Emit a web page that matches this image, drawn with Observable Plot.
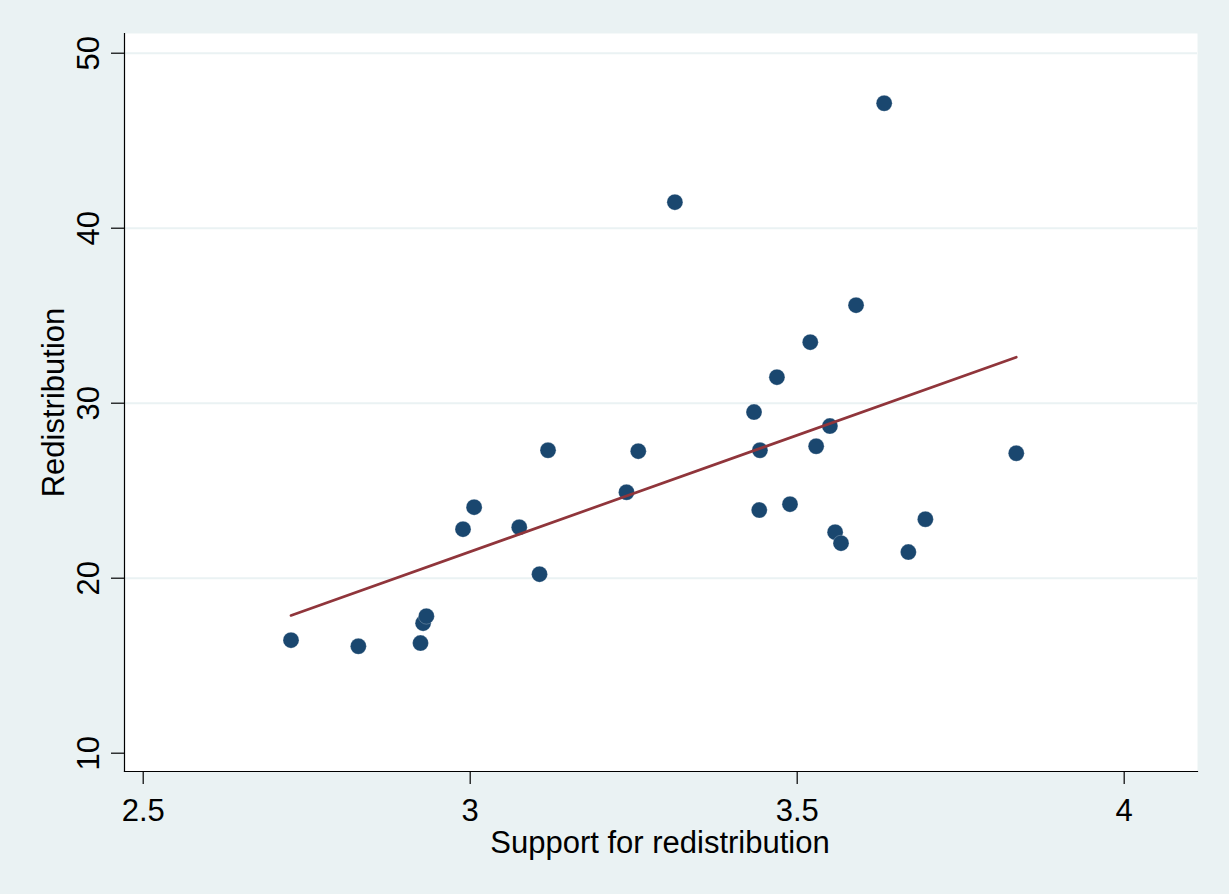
<!DOCTYPE html>
<html>
<head>
<meta charset="utf-8">
<script src="https://cdn.jsdelivr.net/npm/d3@7"></script>
<script src="https://cdn.jsdelivr.net/npm/@observablehq/plot@0.6"></script>
<style>
  html, body { margin: 0; padding: 0; background: #EAF2F3; }
  #chart svg { display: block; }
</style>
</head>
<body>
<div id="chart"></div>
<script>
// Data
const support = [2.726, 2.829, 2.924, 2.928, 2.933, 2.989, 3.006, 3.075, 3.106, 3.119,
                 3.239, 3.257, 3.313, 3.434, 3.442, 3.443, 3.469, 3.489, 3.520, 3.529,
                 3.550, 3.558, 3.567, 3.590, 3.633, 3.670, 3.696, 3.835];
const redistribution = [16.46, 16.11, 16.29, 17.43, 17.83, 22.80, 24.06, 22.91, 20.23, 27.31,
                        24.91, 27.26, 41.49, 29.49, 23.89, 27.31, 31.49, 24.23, 33.49, 27.54,
                        28.69, 22.63, 22.00, 35.60, 47.14, 21.49, 23.37, 27.14];
// fitted line endpoints
const fitX = [2.726, 3.835];
const fitY = [17.87, 32.63];

const xTicks = [2.5, 3, 3.5, 4];
const xTickLabels = ["2.5", "3", "3.5", "4"];
const yTicks = [10, 20, 30, 40, 50];
const yTickLabels = ["10", "20", "30", "40", "50"];
const gridTicks = [20, 30, 40, 50];
const xTitle = "Support for redistribution";
const yTitle = "Redistribution";

const points = support.map((x, i) => ({x, y: redistribution[i]}));
const fit = fitX.map((x, i) => ({x, y: fitY[i]}));
const xTickData = xTicks.map((v, i) => ({v, t: xTickLabels[i]}));
const yTickData = yTicks.map((v, i) => ({v, t: yTickLabels[i]}));

const font = "'Liberation Sans', Arial, Helvetica, sans-serif";
const fs = 31;

const chart = Plot.plot({
  width: 1229,
  height: 894,
  marginLeft: 124,
  marginRight: 32,
  marginTop: 33,
  marginBottom: 123,
  style: {background: "#EAF2F3", fontFamily: font, color: "black"},
  x: {domain: [2.4714, 4.1121], label: null},
  y: {domain: [8.954, 51.126], label: null},
  marks: [
    Plot.frame({fill: "white", stroke: null}),
    Plot.gridY(gridTicks, {stroke: "#EAF2F3", strokeOpacity: 1, strokeWidth: 2}),
    Plot.frame({anchor: "left", stroke: "black", strokeWidth: 1.2}),
    Plot.frame({anchor: "bottom", stroke: "black", strokeWidth: 1.2}),
    Plot.axisX({ticks: xTicks, tickSize: 13, tickFormat: () => "", label: null, stroke: "black", strokeWidth: 1.2}),
    Plot.axisY({ticks: yTicks, tickSize: 13, tickFormat: () => "", label: null, stroke: "black", strokeWidth: 1.2}),
    Plot.text(xTickData, {x: "v", text: "t", frameAnchor: "bottom", dy: 49, lineAnchor: "bottom",
      fontSize: fs, fill: "black", textAnchor: "middle"}),
    Plot.text(yTickData, {y: "v", text: "t", frameAnchor: "left", dx: -26, rotate: -90, lineAnchor: "bottom",
      fontSize: fs, fill: "black", textAnchor: "middle"}),
    Plot.text([xTitle], {text: d => d, frameAnchor: "bottom", dy: 81, dx: -1, lineAnchor: "bottom",
      fontSize: fs, fill: "black", textAnchor: "middle"}),
    Plot.text([yTitle], {text: d => d, frameAnchor: "left", dx: -61, rotate: -90, lineAnchor: "bottom",
      fontSize: fs, fill: "black", textAnchor: "middle"}),
    Plot.dot(points, {x: "x", y: "y", r: 8, fill: "#1A476F", stroke: "#ffffff", strokeWidth: 0.4, strokeOpacity: 0.6}),
    Plot.line(fit, {x: "x", y: "y", stroke: "#90353B", strokeWidth: 2.7})
  ]
});
document.getElementById("chart").appendChild(chart);
</script>
</body>
</html>
